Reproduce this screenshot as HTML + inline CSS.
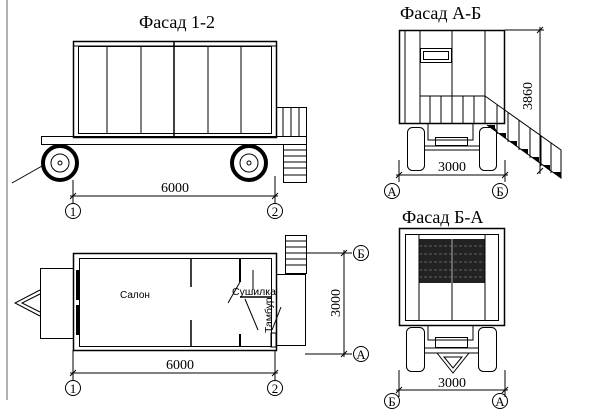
<!DOCTYPE html>
<html><head><meta charset="utf-8"><style>
html,body{margin:0;padding:0;background:#fff;}
svg{display:block;}
text{font-family:"Liberation Serif",serif;fill:#000;}
.s{font-family:"Liberation Sans",sans-serif;}
</style></head><body>
<svg width="608" height="419" viewBox="0 0 608 419" xmlns="http://www.w3.org/2000/svg" fill="none" stroke="#000" stroke-width="1">
<line x1="7" y1="0" x2="7" y2="400" stroke="#666"/>

<!-- Фасад 1-2 -->
<text x="177" y="28" font-size="18" text-anchor="middle" stroke="none">Фасад 1-2</text>
<rect x="73.5" y="41.5" width="203" height="96" stroke-width="1.5"/>
<rect x="78.5" y="46.5" width="193" height="87"/>
<line x1="73" y1="46" x2="276" y2="46"/>
<line x1="174" y1="42" x2="174" y2="137" stroke-width="1.5"/>
<line x1="107" y1="46" x2="107" y2="133"/><line x1="141" y1="46" x2="141" y2="133"/>
<line x1="208" y1="46" x2="208" y2="133"/><line x1="241" y1="46" x2="241" y2="133"/>
<rect x="41.5" y="136.5" width="265" height="8"/>
<rect x="276.5" y="107.5" width="30" height="29"/>
<line x1="283" y1="107" x2="283" y2="136"/><line x1="291" y1="107" x2="291" y2="136"/><line x1="299" y1="107" x2="299" y2="136"/>
<rect x="283.5" y="144.5" width="23" height="38"/>
<g><line x1="283" y1="150" x2="306" y2="150"/><line x1="283" y1="156" x2="306" y2="156"/><line x1="283" y1="162" x2="306" y2="162"/><line x1="283" y1="168" x2="306" y2="168"/><line x1="283" y1="175" x2="306" y2="175"/></g>
<circle cx="60" cy="163" r="17" stroke-width="4"/><circle cx="60" cy="163" r="9"/><circle cx="60" cy="163" r="2"/>
<circle cx="249" cy="163" r="17" stroke-width="4"/><circle cx="249" cy="163" r="9"/><circle cx="249" cy="163" r="2"/>
<line x1="12" y1="183" x2="42" y2="166"/>
<line x1="73" y1="180" x2="73" y2="203"/><line x1="275" y1="176" x2="275" y2="203"/>
<line x1="70" y1="196" x2="278" y2="196"/>
<line x1="70" y1="199" x2="76" y2="193"/><line x1="272" y1="199" x2="278" y2="193"/>
<text x="175" y="192" font-size="14" text-anchor="middle" stroke="none">6000</text>
<circle cx="73" cy="211" r="7.5"/><text x="73" y="216" font-size="13" text-anchor="middle" stroke="none">1</text>
<circle cx="275" cy="211" r="7.5"/><text x="275" y="216" font-size="13" text-anchor="middle" stroke="none">2</text>

<!-- Plan -->
<rect x="73.5" y="253.5" width="203" height="97" stroke-width="1.5"/>
<rect x="79.5" y="258.5" width="192" height="88"/>
<rect x="40.5" y="268.5" width="33" height="70"/>
<polyline points="40,290 15,303 40,316"/><polyline points="40,294 22,303 40,312"/>
<rect x="76" y="270" width="3" height="30" fill="#000" stroke="none"/><rect x="76" y="305" width="3" height="30" fill="#000" stroke="none"/>
<rect x="276.5" y="274.5" width="29" height="71"/>
<rect x="285.5" y="235.5" width="21" height="38"/>
<g><line x1="285" y1="241" x2="306" y2="241"/><line x1="285" y1="247" x2="306" y2="247"/><line x1="285" y1="253" x2="306" y2="253"/><line x1="285" y1="259" x2="306" y2="259"/><line x1="285" y1="265" x2="306" y2="265"/></g>
<line x1="191" y1="259" x2="191" y2="287" stroke-width="1.5"/>
<line x1="191" y1="320" x2="191" y2="347" stroke-width="1.5"/>
<line x1="240" y1="258" x2="240" y2="282" stroke-width="2"/>
<line x1="240" y1="334" x2="240" y2="347" stroke-width="2"/>
<line x1="253" y1="270" x2="253" y2="290"/>
<line x1="240" y1="297" x2="272" y2="297" stroke-width="1.5"/>
<line x1="240" y1="282" x2="228" y2="303"/>
<line x1="245" y1="299" x2="258" y2="330"/>
<line x1="272" y1="330" x2="281" y2="307"/>
<rect x="271" y="333" width="5" height="14"/>
<text x="135" y="298" font-size="10" text-anchor="middle" class="s" stroke="none">Салон</text>
<text x="232" y="295" font-size="10.5" class="s" stroke="none">Сушилка</text>
<text transform="translate(272,333) rotate(-90)" font-size="10.5" class="s" stroke="none">Тамбур</text>
<line x1="305" y1="253" x2="352" y2="253"/><line x1="305" y1="354" x2="352" y2="354"/>
<line x1="344" y1="250" x2="344" y2="357"/>
<line x1="341" y1="256" x2="347" y2="250"/><line x1="341" y1="357" x2="347" y2="351"/>
<text transform="translate(340,303) rotate(-90)" font-size="14" text-anchor="middle" stroke="none">3000</text>
<circle cx="361" cy="253" r="7.5"/><text x="361" y="258" font-size="13" text-anchor="middle" stroke="none">Б</text>
<circle cx="361" cy="354" r="7.5"/><text x="361" y="359" font-size="13" text-anchor="middle" stroke="none">А</text>
<line x1="73" y1="350" x2="73" y2="380"/><line x1="275" y1="350" x2="275" y2="380"/>
<line x1="70" y1="373" x2="278" y2="373"/>
<line x1="70" y1="376" x2="76" y2="370"/><line x1="272" y1="376" x2="278" y2="370"/>
<text x="180" y="369" font-size="14" text-anchor="middle" stroke="none">6000</text>
<circle cx="73" cy="388" r="7.5"/><text x="73" y="393" font-size="13" text-anchor="middle" stroke="none">1</text>
<circle cx="275" cy="388" r="7.5"/><text x="275" y="393" font-size="13" text-anchor="middle" stroke="none">2</text>

<!-- Фасад А-Б -->
<text x="400" y="19" font-size="18" stroke="none">Фасад А-Б</text>
<rect x="399.5" y="30.5" width="105" height="93" stroke-width="1.5"/>
<line x1="405" y1="30" x2="405" y2="123"/>
<line x1="420" y1="30" x2="420" y2="123"/><line x1="452" y1="30" x2="452" y2="123"/><line x1="485" y1="30" x2="485" y2="123"/>
<rect x="420.5" y="48.5" width="31" height="14"/><rect x="423.5" y="51.5" width="25" height="8"/>
<line x1="420" y1="96" x2="485" y2="96"/>
<line x1="430" y1="96" x2="430" y2="123"/><line x1="441" y1="96" x2="441" y2="123"/><line x1="463" y1="96" x2="463" y2="123"/><line x1="474" y1="96" x2="474" y2="123"/>
<line x1="505" y1="30" x2="544" y2="30"/>
<rect x="407.5" y="127.5" width="17" height="43" rx="5"/>
<rect x="479.5" y="127.5" width="17" height="43" rx="5"/>
<path d="M428 123 V140 H473 V123"/>
<rect x="435.5" y="137.5" width="32" height="8"/>
<line x1="424" y1="146" x2="479" y2="146"/><line x1="424" y1="150" x2="479" y2="150"/>
<polyline points="485,96 561,150 561,178 487,125"/>
<g><line x1="497" y1="105" x2="497" y2="134"/><line x1="508" y1="112" x2="508" y2="142"/><line x1="519" y1="120" x2="519" y2="150"/><line x1="530" y1="128" x2="530" y2="158"/><line x1="541" y1="136" x2="541" y2="166"/><line x1="551" y1="143" x2="551" y2="173"/></g>
<g fill="#000" stroke="none"><polygon points="487,125 495,125 495,131"/><polygon points="498,133 506,133 506,139"/><polygon points="509,141 517,141 517,147"/><polygon points="520,149 528,149 528,155"/><polygon points="531,157 539,157 539,163"/><polygon points="542,165 550,165 550,171"/><polygon points="553,172 561,172 561,178"/></g>
<line x1="540" y1="27" x2="540" y2="174"/>
<line x1="537" y1="33" x2="543" y2="27"/><line x1="537" y1="174" x2="543" y2="168"/>
<text transform="translate(532,96) rotate(-90)" font-size="14" text-anchor="middle" stroke="none">3860</text>
<line x1="399" y1="160" x2="399" y2="182"/><line x1="505" y1="160" x2="505" y2="182"/>
<line x1="396" y1="175" x2="508" y2="175"/>
<line x1="396" y1="178" x2="402" y2="172"/><line x1="502" y1="178" x2="508" y2="172"/>
<text x="452" y="171" font-size="14" text-anchor="middle" stroke="none">3000</text>
<circle cx="392" cy="191" r="7.5"/><text x="392" y="196" font-size="13" text-anchor="middle" stroke="none">А</text>
<circle cx="500" cy="191" r="7.5"/><text x="500" y="196" font-size="13" text-anchor="middle" stroke="none">Б</text>

<!-- Фасад Б-А -->
<text x="402" y="223" font-size="18" stroke="none">Фасад Б-А</text>
<rect x="399.5" y="228.5" width="105" height="97" stroke-width="1.5"/>
<rect x="405.5" y="234.5" width="93" height="86"/>
<rect x="419" y="239" width="66" height="44" fill="#222" stroke="none"/>
<g stroke="#777" stroke-width="0.7" stroke-dasharray="3 2"><line x1="419" y1="246" x2="485" y2="246"/><line x1="419" y1="254" x2="485" y2="254"/><line x1="419" y1="262" x2="485" y2="262"/><line x1="419" y1="270" x2="485" y2="270"/><line x1="419" y1="277" x2="485" y2="277"/></g>
<line x1="419" y1="234" x2="419" y2="320"/><line x1="452" y1="283" x2="452" y2="320"/><line x1="485" y1="234" x2="485" y2="320"/>
<line x1="452" y1="239" x2="452" y2="283" stroke="#aaa"/>
<rect x="406.5" y="327.5" width="18" height="44" rx="5"/>
<rect x="478.5" y="327.5" width="18" height="44" rx="5"/>
<path d="M428 325 V340 H473 V325"/>
<rect x="435.5" y="337.5" width="32" height="10"/>
<line x1="424" y1="348" x2="479" y2="348"/><line x1="424" y1="353" x2="479" y2="353"/>
<polygon points="437,353 469,353 453,373"/><polygon points="444,357 462,357 453,368"/>
<line x1="399" y1="370" x2="399" y2="397"/><line x1="505" y1="370" x2="505" y2="397"/>
<line x1="396" y1="390" x2="508" y2="390"/>
<line x1="396" y1="393" x2="402" y2="387"/><line x1="502" y1="393" x2="508" y2="387"/>
<text x="452" y="387" font-size="14" text-anchor="middle" stroke="none">3000</text>
<circle cx="392" cy="401" r="7.5"/><text x="392" y="406" font-size="13" text-anchor="middle" stroke="none">Б</text>
<circle cx="500" cy="401" r="7.5"/><text x="500" y="406" font-size="13" text-anchor="middle" stroke="none">А</text>
</svg>
</body></html>
